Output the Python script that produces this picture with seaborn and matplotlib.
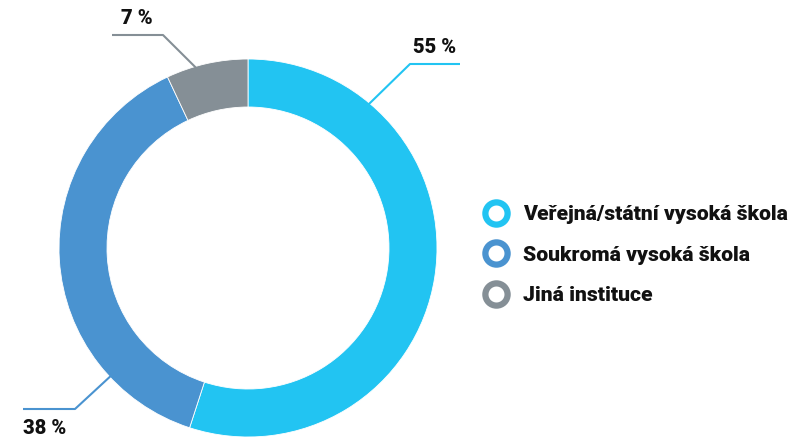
import numpy as np
import seaborn as sns
from matplotlib import pyplot as plt
from matplotlib.lines import Line2D

categories = ["Veřejná/státní vysoká škola", "Soukromá vysoká škola", "Jiná instituce"]
shares = [55, 38, 7]
share_labels = ["55 %", "38 %", "7 %"]
colours = ["#22C4F2", "#4A93D0", "#858F96"]

sns.set_theme(style="white")
plt.rcParams['font.family'] = ['Roboto', 'DejaVu Sans']

W, H = 807, 440
fig = plt.figure(figsize=(W / 100, H / 100), dpi=100)
ax = fig.add_axes([0, 0, 1, 1])

cx, cy = 248, H - 248
radius = 189
ax.pie(shares, colors=colours, startangle=90, counterclock=False,
       radius=radius, center=(cx, cy),
       wedgeprops=dict(width=48, edgecolor="white", linewidth=0.6))
ax.set_xlim(0, W)
ax.set_ylim(0, H)
ax.set_aspect("equal")
ax.axis("off")

# leader lines: angle on ring (deg, clockwise from top), elbow, end, text pos
leaders = [
    (40, (410, 64), (460, 64), (456, 47), "right"),
    (227, (75, 409), (23, 409), (23, 428), "left"),
    (-16, (163, 35), (112, 35), (121, 18), "left"),
]
for (ang, elbow, end, tpos, ha), lab, col in zip(leaders, share_labels, colours):
    a = np.radians(ang)
    r = radius - 2
    sx, sy = cx + r * np.sin(a), cy + r * np.cos(a)
    ax.plot([sx, elbow[0], end[0]], [sy, H - elbow[1], H - end[1]],
            color=col, lw=1.5, solid_capstyle="butt")
    ax.text(tpos[0], H - tpos[1], lab, ha=ha, va="center",
            fontsize=14.5, fontweight=900, color="#111111")

handles = [Line2D([], [], ls="none", marker="o", markersize=16,
                  markerfacecolor="white", markeredgecolor=c, markeredgewidth=4.5)
           for c in colours]
ax.legend(handles, categories, loc="center left", bbox_to_anchor=(466 / W, 1 - 255 / H),
          frameon=False, prop=dict(size=15.2, weight=900), labelspacing=1.02,
          handletextpad=0.75, handlelength=1.05, labelcolor="#111111")

fig.savefig("out.png", dpi=100)
